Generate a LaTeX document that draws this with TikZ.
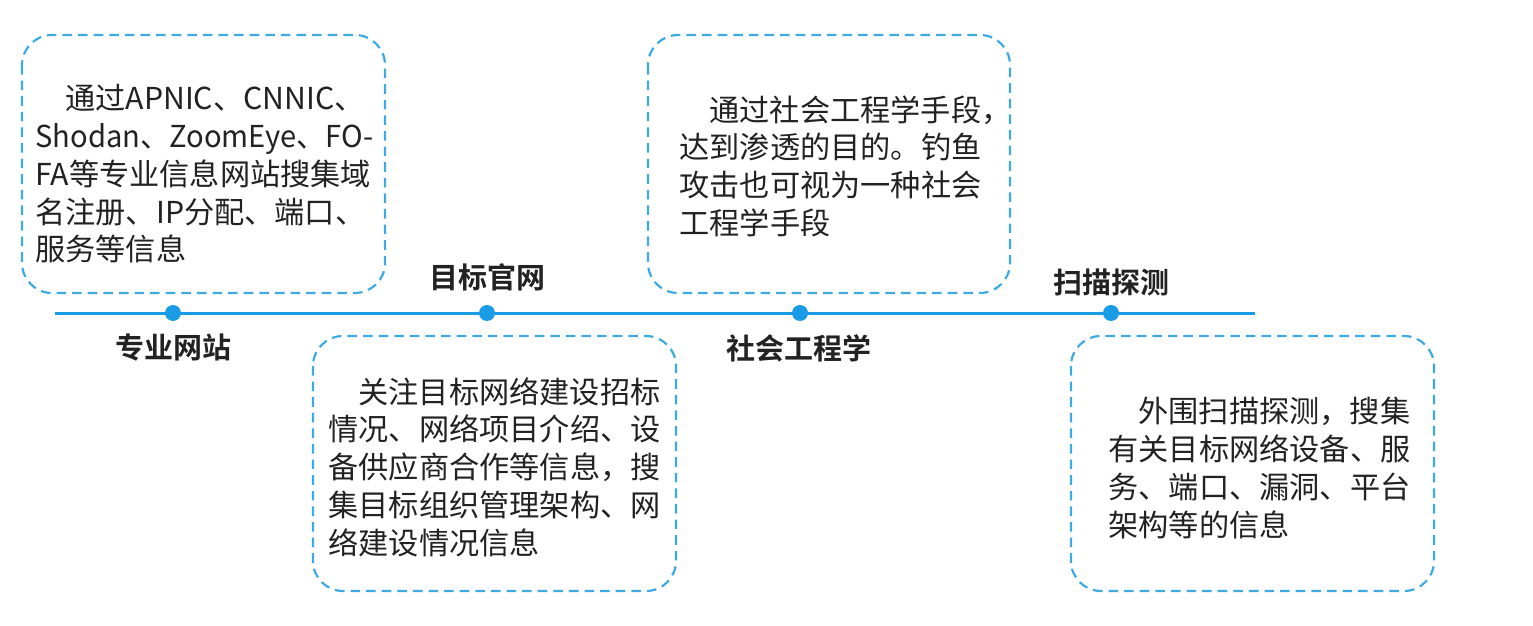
\documentclass[tikz,border=0pt]{standalone}
\usepackage{fontspec}
\usepackage{graphicx}
\newfontfamily\cjk{Noto Sans CJK SC}
\newfontfamily\cjkb{Noto Sans CJK SC Bold}
\definecolor{lineblue}{HTML}{1A9BE6}
\definecolor{boxblue}{HTML}{3DAAE3}
\definecolor{txt}{HTML}{222222}
\begin{document}
\begin{tikzpicture}[x=0.5pt,y=-0.5pt,
  infobox/.style={draw=boxblue,line width=1.1pt,dash pattern=on 4.8pt off 3pt,rounded corners=15pt},
  infotext/.style={anchor=north west,inner sep=0pt,align=left,text=txt,font=\cjk\fontsize{15.1pt}{18.9pt}\selectfont},
  label/.style={inner sep=0pt,text=txt,font=\cjkb\fontsize{14.5pt}{17pt}\selectfont},
  dot/.style={circle,fill=lineblue,inner sep=0pt,minimum size=8pt}]
\useasboundingbox (0,0) rectangle (1533,626);
% timeline
\coordinate (tl) at (55,313);
\coordinate (tr) at (1255,313);
\draw[lineblue,line width=1.5pt] (tl) -- (tr);
\node[dot] (d1) at (173,313) {};
\node[dot] (d2) at (487,313) {};
\node[dot] (d3) at (800,313) {};
\node[dot] (d4) at (1111,313) {};
% labels
\node[label] (l1) at (173,347) {专业网站};
\node[label] (l2) at (487,277) {目标官网};
\node[label] (l3) at (799,348) {社会工程学};
\node[label] (l4) at (1111,282) {扫描探测};
% boxes
\draw[infobox] (22,35) rectangle (385,293);
\draw[infobox] (313,336) rectangle (676,591);
\draw[infobox] (648,35) rectangle (1010,293);
\draw[infobox] (1071,336) rectangle (1434,591);
% texts
\node[infotext] (t1) at (35,84) {\hspace*{15pt}通过APNIC、CNNIC、\\\scalebox{0.965}[1]{Shodan、ZoomEye、FO-}\\FA等专业信息网站搜集域\\名注册、IP分配、端口、\\服务等信息};
\node[infotext] (t2) at (328,377) {\hspace*{15pt}关注目标网络建设招标\\情况、网络项目介绍、设\\备供应商合作等信息，搜\\集目标组织管理架构、网\\络建设情况信息};
\node[infotext] (t3) at (679,95) {\hspace*{15pt}通过社会工程学手段，\\达到渗透的目的。钓鱼\\攻击也可视为一种社会\\工程学手段};
\node[infotext] (t4) at (1108,397) {\hspace*{15pt}外围扫描探测，搜集\\有关目标网络设备、服\\务、端口、漏洞、平台\\架构等的信息};
\end{tikzpicture}
\end{document}
